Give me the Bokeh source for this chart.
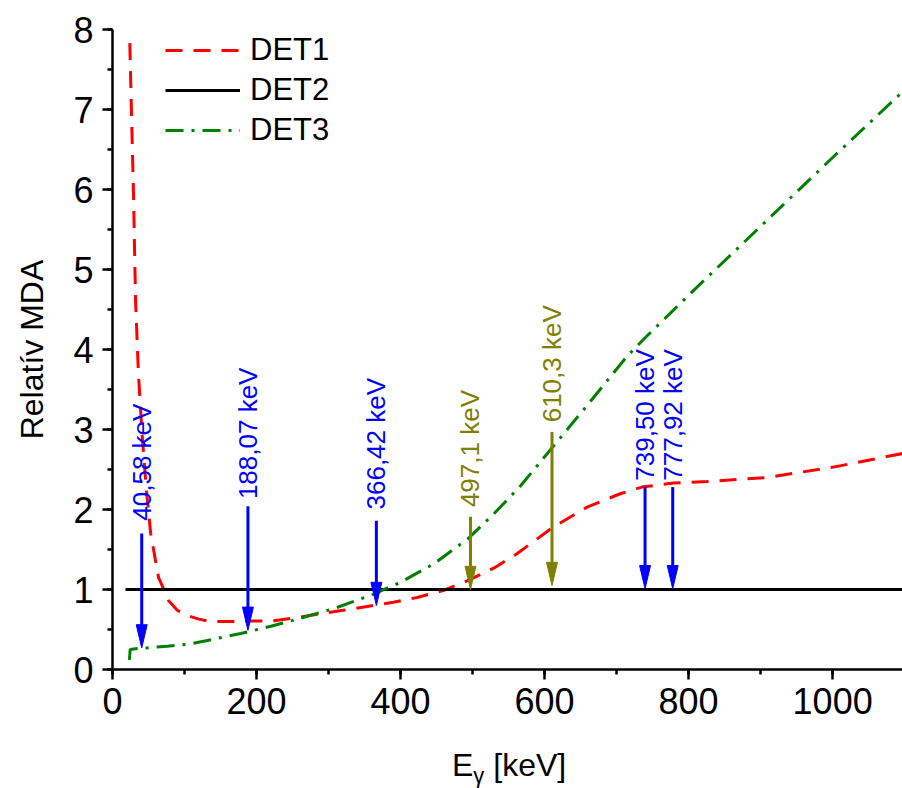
from math import pi

from bokeh.plotting import figure
from bokeh.layouts import column
from bokeh.models import (Range1d, SingleIntervalTicker, Legend, LegendItem,
                          ColumnDataSource, Div)
from bokeh.core.properties import value
from bokeh.embed import file_html
from bokeh.resources import INLINE

# Relative MDA of three detectors versus gamma energy (DET2 is the reference)
det1_e = [24, 26.5, 29, 32, 36, 41, 47, 53, 64, 78, 90, 104, 120, 136, 160, 190,
          224, 250, 284, 320, 362, 390, 423, 460, 493, 530, 562, 612, 659, 706,
          735, 779, 826, 909, 1001, 1097]
det1_v = [7.83, 6.9, 6.01, 4.61, 3.7, 2.95, 2.25, 1.70, 1.15, 0.86, 0.74, 0.675,
          0.63, 0.60, 0.60, 0.605, 0.61, 0.64, 0.69, 0.74, 0.80, 0.84, 0.90, 0.99,
          1.11, 1.27, 1.45, 1.78, 2.03, 2.20, 2.28, 2.33, 2.35, 2.40, 2.53, 2.70]

det2_e = [18, 1100]
det2_v = [1.0, 1.0]

det3_e = [23.5, 24.5, 32, 76, 108, 130, 178, 220, 261, 310, 362, 400, 446, 493,
          530, 567, 613, 659, 715, 740, 789, 821, 942, 1000, 1097]
det3_v = [0.12, 0.25, 0.26, 0.29, 0.32, 0.36, 0.45, 0.54, 0.64, 0.77, 0.94, 1.09,
          1.32, 1.63, 1.95, 2.30, 2.80, 3.30, 3.92, 4.15, 4.58, 4.86, 5.90, 6.40,
          7.22]

# Marked gamma lines: energy, label, colour, arrow tail / tip, label start
line_e = [40.58, 188.07, 366.42, 497.1, 610.3, 739.50, 777.92]
line_label = ["40,58 keV", "188,07 keV", "366,42 keV", "497,1 keV",
              "610,3 keV", "739,50 keV", "777,92 keV"]
line_color = ["#0000FF", "#0000FF", "#0000FF", "#808000", "#808000",
              "#0000FF", "#0000FF"]
line_tail = [1.70, 2.04, 1.86, 1.91, 2.97, 2.28, 2.28]
line_tip = [0.27, 0.49, 0.80, 1.00, 1.05, 1.01, 1.01]
line_text_y = [1.86, 2.13, 2.00, 2.03, 3.09, 2.36, 2.36]

# arrow head size in data units
HEAD_LEN = 0.29
HEAD_HALF = 7.6

FONT = "Liberation Sans"

p = figure(width=902, height=740, x_range=Range1d(0, 1097), y_range=Range1d(0, 8),
           output_backend="svg", toolbar_location=None, title=None,
           min_border_left=112, min_border_right=0, min_border_top=29,
           min_border_bottom=71)
p.outline_line_color = None
p.grid.visible = False
p.background_fill_color = "white"
p.border_fill_color = "white"

p.xaxis.ticker = SingleIntervalTicker(interval=200, num_minor_ticks=2)
p.yaxis.ticker = SingleIntervalTicker(interval=1, num_minor_ticks=2)
for ax in (p.xaxis[0], p.yaxis[0]):
    ax.axis_line_width = 2.5
    ax.major_tick_line_width = 2.5
    ax.minor_tick_line_width = 2.5
    ax.major_tick_in = 0
    ax.major_tick_out = 10
    ax.minor_tick_in = 0
    ax.minor_tick_out = 5
    ax.major_label_text_font = FONT
    ax.major_label_text_font_size = "36px"
    ax.major_label_text_color = "black"
    ax.axis_label_text_font = FONT
    ax.axis_label_text_font_size = "32px"
    ax.axis_label_text_font_style = "normal"
    ax.axis_label_text_color = "black"
p.xaxis.major_label_standoff = 8
p.yaxis.major_label_standoff = 9
p.yaxis.axis_label = "Relatív MDA"
p.yaxis.axis_label_standoff = 20

r1 = p.line(det1_e, det1_v, line_color="#FF0000", line_width=3, line_dash="17 11")
r2 = p.line(det2_e, det2_v, line_color="black", line_width=3)
r3 = p.line(det3_e, det3_v, line_color="#008000", line_width=3, line_dash="18 8 3 8")

# arrows marking the gamma lines
src = ColumnDataSource(dict(
    x=line_e, tail=line_tail, tip=line_tip, color=line_color,
    shaft_end=[t + HEAD_LEN for t in line_tip],
    hx=[[e - HEAD_HALF, e, e + HEAD_HALF] for e in line_e],
    hy=[[t + HEAD_LEN, t, t + HEAD_LEN] for t in line_tip],
    ty=line_text_y, label=line_label,
))
p.segment(x0="x", y0="tail", x1="x", y1="shaft_end", line_color="color",
          line_width=3, source=src)
p.patches(xs="hx", ys="hy", fill_color="color", line_color="color",
          line_width=1, source=src)
p.text(x="x", y="ty", text="label", angle=pi / 2, text_align="left",
       text_baseline="middle", text_color="color", text_font=value(FONT),
       text_font_size="26px", source=src)

legend = Legend(items=[LegendItem(label="DET1", renderers=[r1]),
                       LegendItem(label="DET2", renderers=[r2]),
                       LegendItem(label="DET3", renderers=[r3])],
                location=(53, 519), glyph_width=75, glyph_height=40,
                label_height=40, spacing=0, padding=0, margin=0,
                label_standoff=10, border_line_color=None,
                background_fill_alpha=0, label_text_font=FONT,
                label_text_font_size="31px", label_text_color="black")
p.add_layout(legend)

# x axis title with a subscript gamma
xtitle = Div(
    text='<div style="margin:0;padding:0 0 0 452px;padding-top:7px;'
         'font-family:\'Liberation Sans\';font-size:32px;line-height:37px;'
         'color:black;white-space:nowrap">E<sub style="font-size:22px;'
         'vertical-align:-7px;line-height:0">γ</sub> [keV]</div>',
    width=902, height=48, margin=(0, 0, 0, 0))

layout = column(p, xtitle, spacing=0)
layout.margin = (0, 0, 0, 0)

open("out.html", "w").write(file_html(layout, INLINE))
